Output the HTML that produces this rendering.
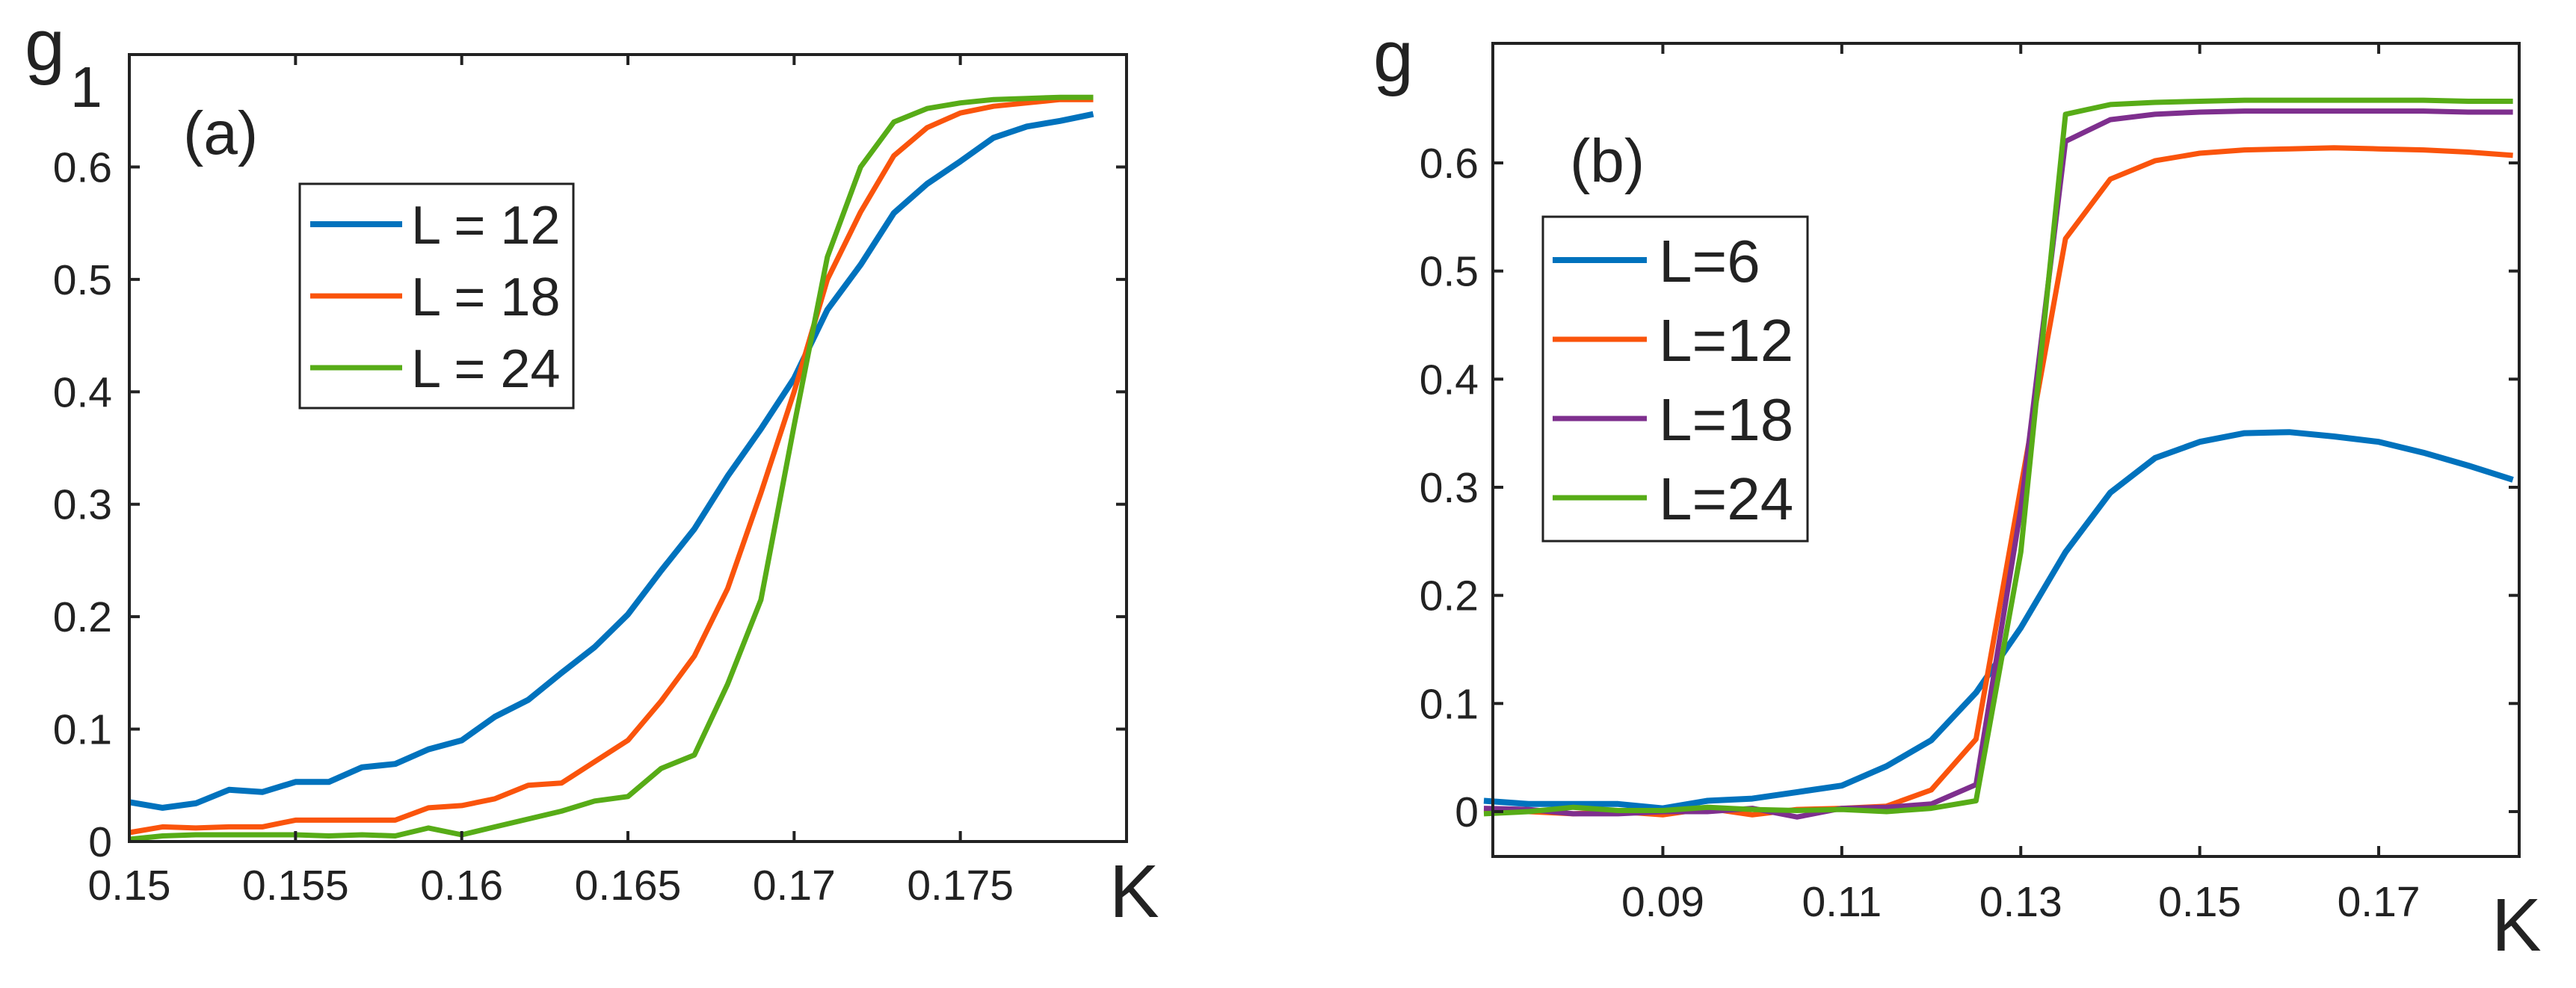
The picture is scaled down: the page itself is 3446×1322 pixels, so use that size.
<!DOCTYPE html>
<html><head><meta charset="utf-8"><style>
html,body{margin:0;padding:0;background:#fff;width:3446px;height:1322px;overflow:hidden}
svg text{font-family:"Liberation Sans",Arial,sans-serif;fill:#222}
</style></head><body>
<svg id="fig" width="3446" height="1322" viewBox="0 0 3446 1322" xmlns="http://www.w3.org/2000/svg"></svg>
<script>
// ---- Panel (a) data ----
const kA = [0.150,0.151,0.152,0.153,0.154,0.155,0.156,0.157,0.158,0.159,0.160,0.161,0.162,0.163,0.164,0.165,0.166,0.167,0.168,0.169,0.170,0.171,0.172,0.173,0.174,0.175,0.176,0.177,0.178,0.179];
const aL12 = [0.035,0.030,0.034,0.046,0.044,0.053,0.053,0.066,0.069,0.082,0.090,0.111,0.126,0.150,0.173,0.202,0.241,0.278,0.325,0.367,0.412,0.473,0.513,0.559,0.585,0.605,0.626,0.636,0.641,0.647];
const aL18 = [0.008,0.013,0.012,0.013,0.013,0.019,0.019,0.019,0.019,0.030,0.032,0.038,0.050,0.052,0.071,0.090,0.125,0.165,0.225,0.310,0.400,0.500,0.560,0.610,0.635,0.648,0.654,0.657,0.660,0.660];
const aL24 = [0.002,0.005,0.006,0.006,0.006,0.006,0.005,0.006,0.005,0.012,0.006,0.013,0.020,0.027,0.036,0.040,0.065,0.077,0.140,0.215,0.370,0.520,0.600,0.640,0.652,0.657,0.660,0.661,0.662,0.662];
const aXTicks = [0.15,0.155,0.16,0.165,0.17,0.175,0.18];
const aXTickLabels = ["0.15","0.155","0.16","0.165","0.17","0.175",""];
const aYTicks = [0,0.1,0.2,0.3,0.4,0.5,0.6];
const aYTickLabels = ["0","0.1","0.2","0.3","0.4","0.5","0.6"];
const aNames = ["L = 12","L = 18","L = 24"];
// ---- Panel (b) data ----
const kB = [0.070,0.075,0.080,0.085,0.090,0.095,0.100,0.105,0.110,0.115,0.120,0.125,0.130,0.135,0.140,0.145,0.150,0.155,0.160,0.165,0.170,0.175,0.180,0.185];
const bL6  = [0.010,0.007,0.007,0.007,0.003,0.010,0.012,0.018,0.024,0.042,0.066,0.110,0.170,0.240,0.295,0.327,0.342,0.350,0.351,0.347,0.342,0.332,0.320,0.307];
const bL12 = [0.000,0.000,-0.002,0.000,-0.003,0.003,-0.003,0.002,0.003,0.005,0.020,0.067,0.300,0.530,0.585,0.602,0.609,0.612,0.613,0.614,0.613,0.612,0.610,0.607];
const bL18 = [0.003,0.002,-0.002,-0.002,0.000,0.000,0.003,-0.005,0.003,0.004,0.007,0.025,0.280,0.620,0.640,0.645,0.647,0.648,0.648,0.648,0.648,0.648,0.647,0.647];
const bL24 = [-0.002,0.000,0.004,0.001,0.001,0.004,0.002,0.001,0.002,0.000,0.003,0.010,0.240,0.645,0.654,0.656,0.657,0.658,0.658,0.658,0.658,0.658,0.657,0.657];
const bXTicks = [0.09,0.11,0.13,0.15,0.17];
const bXTickLabels = ["0.09","0.11","0.13","0.15","0.17"];
const bYTicks = [0,0.1,0.2,0.3,0.4,0.5,0.6];
const bYTickLabels = ["0","0.1","0.2","0.3","0.4","0.5","0.6"];
const bNames = ["L=6","L=12","L=18","L=24"];

const BLUE="#0072BD", ORANGE="#FA540C", PURPLE="#7E2F8E", GREEN="#57AC17";
const NS="http://www.w3.org/2000/svg";
const svg=document.getElementById('fig');
function mk(tag,attrs,parent){const e=document.createElementNS(NS,tag);for(const k in attrs)e.setAttribute(k,attrs[k]);(parent||svg).appendChild(e);return e;}

function panel(cfg){
  const g=mk('g',{});
  
  
  const X=v=>cfg.L+(v-cfg.x0)/(cfg.x1-cfg.x0)*(cfg.R-cfg.L);
  const Y=v=>cfg.B-(v-cfg.y0)/(cfg.y1-cfg.y0)*(cfg.B-cfg.T);
  cfg.series.forEach((s,i)=>{
    const d=s.vals.map((v,j)=>(j?'L':'M')+X(cfg.xs[j]).toFixed(1)+' '+Y(v).toFixed(1)).join(' ');
    const p=mk('path',{d:d,fill:'none',stroke:s.color,'stroke-width':s.w,'stroke-linejoin':'round'},g);
    
    
  });
  const box=mk('rect',{x:cfg.L,y:cfg.T,width:cfg.R-cfg.L,height:cfg.B-cfg.T,fill:'none',stroke:'#222','stroke-width':4},g);
  
  
  const tl=14;
  cfg.xt.forEach((t,i)=>{
    const x=X(t);
    mk('line',{x1:x,y1:cfg.B,x2:x,y2:cfg.B-tl,stroke:'#222','stroke-width':4},g);
    mk('line',{x1:x,y1:cfg.T,x2:x,y2:cfg.T+tl,stroke:'#222','stroke-width':4},g);
    if(cfg.xtl[i]){const tx=mk('text',{x:x,y:cfg.xlabY,'text-anchor':'middle','font-size':57},g);tx.textContent=cfg.xtl[i];
      
      }
  });
  cfg.yt.forEach((t,i)=>{
    const y=Y(t);
    mk('line',{x1:cfg.L,y1:y,x2:cfg.L+tl,y2:y,stroke:'#222','stroke-width':4},g);
    mk('line',{x1:cfg.R,y1:y,x2:cfg.R-tl,y2:y,stroke:'#222','stroke-width':4},g);
    const ty=mk('text',{x:cfg.ylabX,y:y+20,'text-anchor':'end','font-size':57},g);ty.textContent=cfg.ytl[i];
    
    
  });
  const lg=mk('g',{},g);
  
  
  mk('rect',{x:cfg.leg.x,y:cfg.leg.y,width:cfg.leg.w,height:cfg.leg.h,fill:'#fff',stroke:'#222','stroke-width':3},lg);
  cfg.series.forEach((s,i)=>{
    const yy=cfg.leg.rows[i];
    const e=mk('g',{},lg);
    
    
    mk('line',{x1:cfg.leg.lx1,y1:yy,x2:cfg.leg.lx2,y2:yy,stroke:s.color,'stroke-width':s.w},e);
    const t=mk('text',{x:cfg.leg.tx,y:yy+cfg.leg.fs*0.36,'font-size':cfg.leg.fs,fill:'#000'},e);t.textContent=s.label;
  });
  return g;
}

panel({name:'panel-a',L:173,R:1507,T:73,B:1126,x0:0.15,x1:0.18,y0:0,y1:0.7,xs:kA,
  series:[{vals:aL12,color:BLUE,label:aNames[0],w:8},{vals:aL18,color:ORANGE,label:aNames[1],w:7},{vals:aL24,color:GREEN,label:aNames[2],w:7}],
  xt:aXTicks,xtl:aXTickLabels,yt:aYTicks,ytl:aYTickLabels,xlabY:1204,ylabX:150,
  leg:{x:401,y:246,w:366,h:300,rows:[300,396,492],lx1:415,lx2:538,tx:550,fs:72}});
panel({name:'panel-b',L:1997,R:3370,T:58,B:1146,x0:0.071,x1:0.1857,y0:-0.0415,y1:0.7106,xs:kB,
  series:[{vals:bL6,color:BLUE,label:bNames[0],w:8},{vals:bL12,color:ORANGE,label:bNames[1],w:7},{vals:bL18,color:PURPLE,label:bNames[2],w:7},{vals:bL24,color:GREEN,label:bNames[3],w:7}],
  xt:bXTicks,xtl:bXTickLabels,yt:bYTicks,ytl:bYTickLabels,xlabY:1226,ylabX:1978,
  leg:{x:2064,y:290,w:354,h:434,rows:[348,454,560,666],lx1:2077,lx2:2203,tx:2219,fs:80}});

function label(txt,x,y,fs,name){const t=mk('text',{x:x,y:y,'font-size':fs});t.textContent=txt;
  
  }
label('g',33,94,97,'y-axis-title-a');
label('1',94,143,77,'y-axis-title-subscript');
label('K',1484,1227,100,'x-axis-title-a');
label('(a)',245,206,82,'panel-label-a');
label('g',1837,109,97,'y-axis-title-b');
label('K',3333,1272,100,'x-axis-title-b');
label('(b)',2100,243,82,'panel-label-b');
</script>
</body></html>
